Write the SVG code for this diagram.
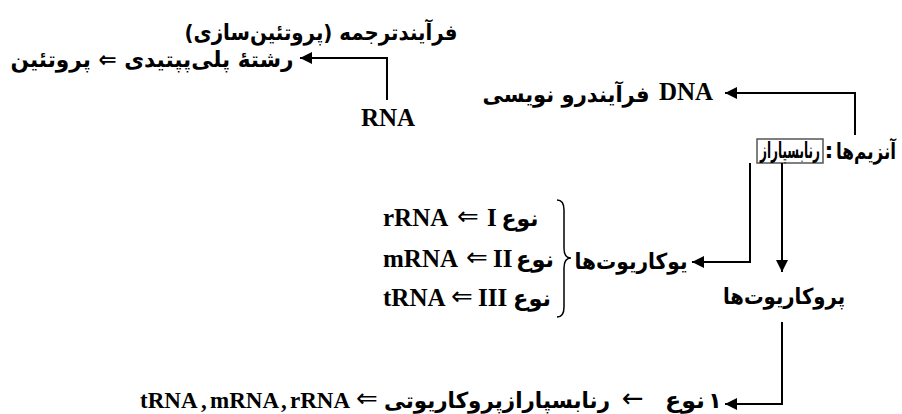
<svg xmlns="http://www.w3.org/2000/svg" width="902" height="414" viewBox="0 0 902 414">
<defs>
<marker id="ah" viewBox="0 0 10 10" refX="10" refY="5" markerWidth="15" markerHeight="12" markerUnits="userSpaceOnUse" orient="auto">
<path d="M0,0 L10,5 L0,10 z" fill="#000"/>
</marker>
<style>
.fa{font-family:"DejaVu Sans","Noto Sans",sans-serif;font-weight:bold;font-size:22px;fill:#000}
.la{font-family:"Liberation Serif",serif;font-weight:bold;font-size:25px;fill:#000}
.lb{font-family:"Liberation Serif",serif;font-weight:bold;font-size:23px;fill:#000}
.sy{font-family:"DejaVu Sans",sans-serif;font-size:26px;fill:#000}
.ln{fill:none;stroke:#000;stroke-width:2}
</style>
</defs>
<rect width="902" height="414" fill="#fff"/>

<g id="translation">
<text class="fa" x="321" y="40" text-anchor="middle" direction="rtl" textLength="273" lengthAdjust="spacingAndGlyphs">فرآیندترجمه (پروتئین‌سازی)</text>
<text class="fa" x="152" y="67" text-anchor="middle" direction="rtl" textLength="283" lengthAdjust="spacingAndGlyphs">رشتهٔ پلی‌پپتیدی ⇐ پروتئین</text>
</g>
<g id="rna">
<text class="la" x="388" y="126" text-anchor="middle">RNA</text>
</g>
<g id="transcription">
<text class="la" x="659" y="100">DNA</text>
<text class="fa" x="566" y="102" text-anchor="middle" textLength="167" lengthAdjust="spacingAndGlyphs">فرآیندرو نویسی</text>
</g>
<g id="enzymes">
<text class="fa" x="866" y="159" text-anchor="middle" textLength="60" lengthAdjust="spacingAndGlyphs">آنزیم‌ها</text>
<text class="fa" x="829" y="158" text-anchor="middle">:</text>
<rect x="757" y="139" width="66" height="24" fill="#fff" stroke="#555" stroke-width="1.5"/>
<text class="fa" x="790" y="158" text-anchor="middle" textLength="60" lengthAdjust="spacingAndGlyphs">رنابسپاراز</text>
</g>
<g id="eukaryotes">
<text class="fa" x="631" y="269" text-anchor="middle" textLength="113" lengthAdjust="spacingAndGlyphs">یوکاریوت‌ها</text>
<path d="M557,200 Q564,200 564,210 L564,248 Q564,258 571,258 Q564,258 564,268 L564,307 Q564,317 557,317" fill="none" stroke="#000" stroke-width="1.5"/>
<text class="la" x="383" y="226">rRNA</text>
<text class="sy" x="468" y="225" text-anchor="middle">⇐</text>
<text class="la" x="487" y="226">I</text>
<text class="fa" x="520" y="226" text-anchor="middle" textLength="37" lengthAdjust="spacingAndGlyphs">نوع</text>
<text class="la" x="383" y="267">mRNA</text>
<text class="sy" x="477" y="266" text-anchor="middle">⇐</text>
<text class="la" x="493" y="267">II</text>
<text class="fa" x="535" y="267" text-anchor="middle" textLength="38" lengthAdjust="spacingAndGlyphs">نوع</text>
<text class="la" x="383" y="306">tRNA</text>
<text class="sy" x="462" y="305" text-anchor="middle">⇐</text>
<text class="la" x="478" y="306">III</text>
<text class="fa" x="532" y="306" text-anchor="middle" textLength="38" lengthAdjust="spacingAndGlyphs">نوع</text>
</g>
<g id="prokaryotes">
<text class="fa" x="784" y="304" text-anchor="middle" textLength="122" lengthAdjust="spacingAndGlyphs">پروکاریوت‌ها</text>
</g>
<g id="prokaryote-polymerase">
<text class="lb" x="140" y="408">tRNA</text>
<text class="lb" x="201" y="408">,</text>
<text class="lb" x="210" y="408">mRNA</text>
<text class="lb" x="281" y="408">,</text>
<text class="lb" x="290" y="408">rRNA</text>
<text class="sy" x="367" y="407" text-anchor="middle">⇐</text>
<text class="fa" x="497" y="408" text-anchor="middle" textLength="226" lengthAdjust="spacingAndGlyphs">رنابسپارازپروکاریوتی</text>
<text class="sy" x="633" y="407" text-anchor="middle">←</text>
<text class="fa" x="685" y="408" text-anchor="middle" textLength="40" lengthAdjust="spacingAndGlyphs">نوع</text>
<text class="fa" x="715" y="408" text-anchor="middle">۱</text>
</g>
<g id="connectors">
<polyline class="ln" points="387,100 387,58 300,58" marker-end="url(#ah)"/>
<polyline class="ln" points="855,135 855,93 725,93" marker-end="url(#ah)"/>
<polyline class="ln" points="750,163 750,262 692,262" marker-end="url(#ah)" stroke-width="2.5"/>
<polyline class="ln" points="782,163 782,272" marker-end="url(#ah)"/>
<polyline class="ln" points="782,322 782,404 725,404" marker-end="url(#ah)"/>
</g>
</svg>
